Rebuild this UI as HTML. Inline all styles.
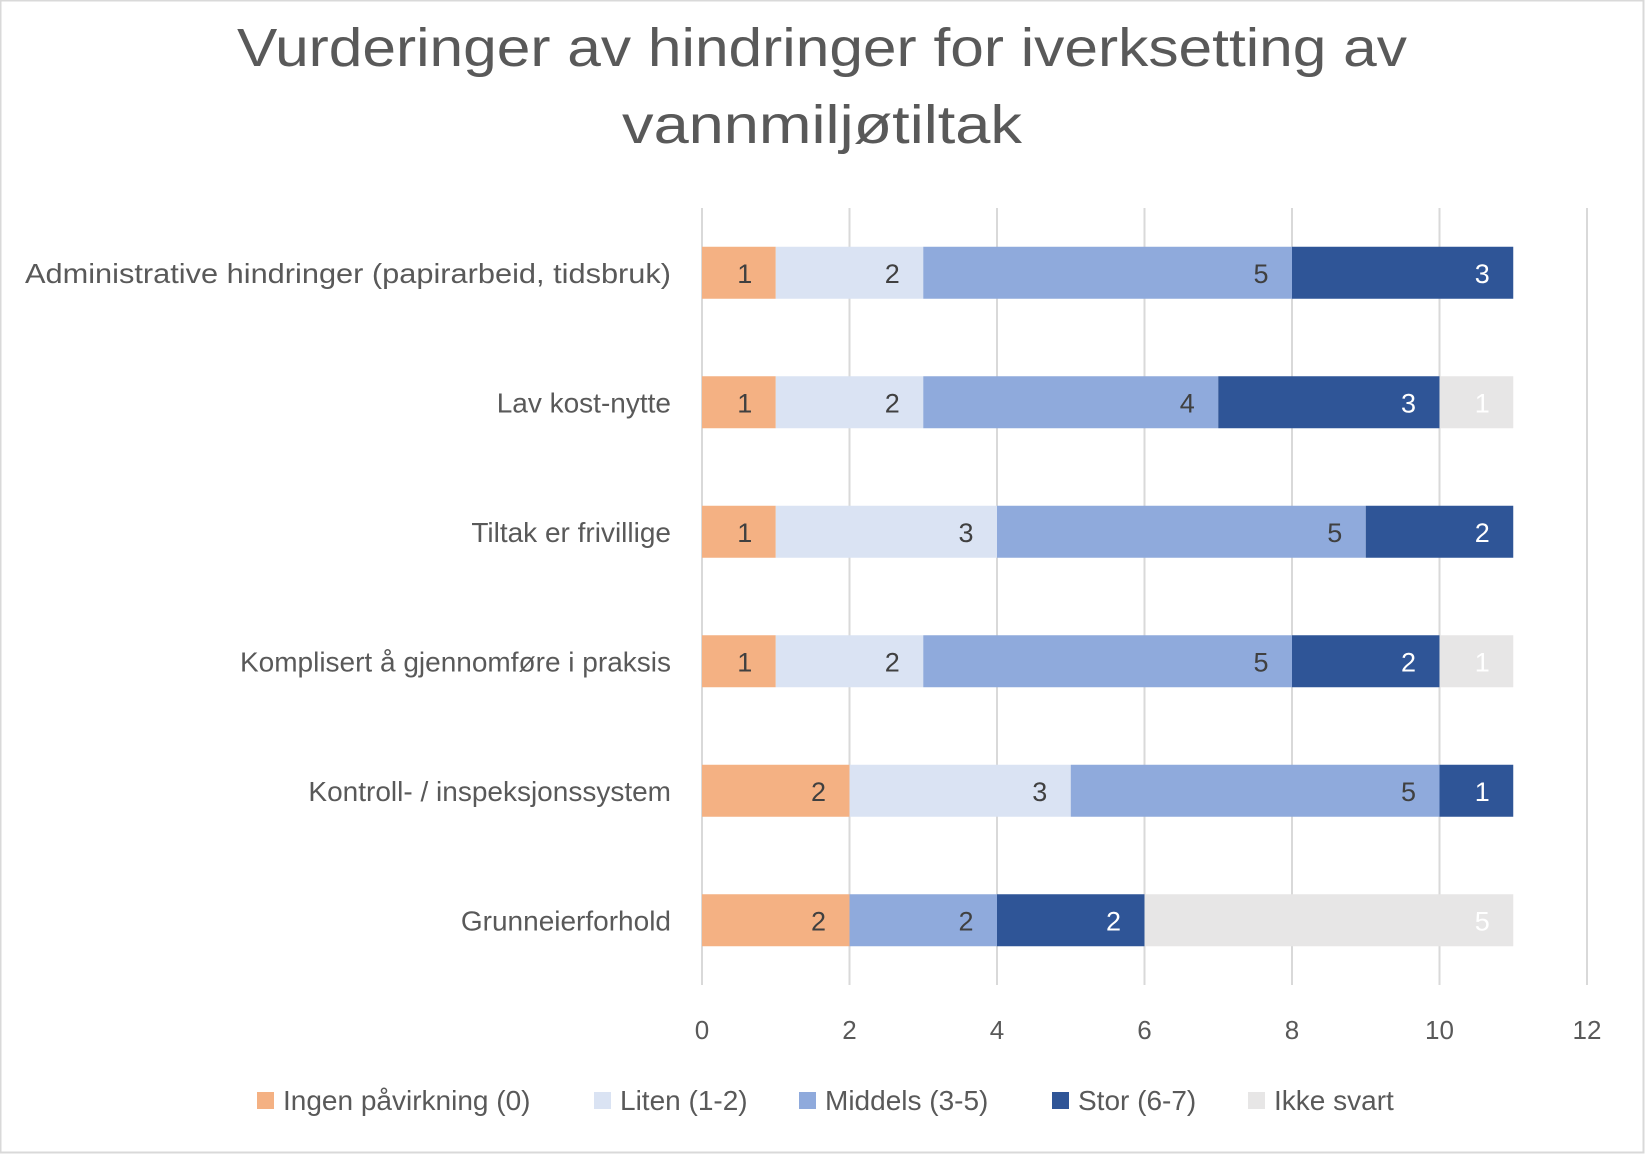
<!DOCTYPE html>
<html><head><meta charset="utf-8"><style>
html,body{margin:0;padding:0;background:#fff}
svg{display:block}
text{font-family:"Liberation Sans",sans-serif}
</style></head><body>
<svg id="chart" width="1645" height="1154" viewBox="0 0 1645 1154">
<rect x="0.5" y="0.5" width="1643" height="1152" fill="#fff" stroke="#d9d9d9" stroke-width="2"/>
<text x="822" y="66" text-anchor="middle" font-size="54" fill="#595959" textLength="1170" lengthAdjust="spacingAndGlyphs">Vurderinger av hindringer for iverksetting av</text>
<text x="822" y="143" text-anchor="middle" font-size="54" fill="#595959" textLength="400" lengthAdjust="spacingAndGlyphs">vannmiljøtiltak</text>
<g id="grid"></g><g id="bars"></g><g id="ylabels"></g><g id="xticks"></g><g id="legend"></g>
</svg>
<script>
const categories = ["Administrative hindringer (papirarbeid, tidsbruk)","Lav kost-nytte","Tiltak er frivillige","Komplisert å gjennomføre i praksis","Kontroll- / inspeksjonssystem","Grunneierforhold"];
const seriesNames = ["Ingen påvirkning (0)","Liten (1-2)","Middels (3-5)","Stor (6-7)","Ikke svart"];
const ingen = [1,1,1,1,2,2];
const liten = [2,2,3,2,3,0];
const middels = [5,4,5,5,5,2];
const stor = [3,3,2,2,1,2];
const ikkeSvart = [0,1,0,1,0,5];
const xTicks = [0,2,4,6,8,10,12];
const series = [ingen,liten,middels,stor,ikkeSvart];
const colors = ["#F4B183","#DAE3F3","#8FAADC","#2F5597","#E7E6E6"];
const labelColors = ["#404040","#404040","#404040","#ffffff","#ffffff"];
const NS = "http://www.w3.org/2000/svg";
const x0 = 702, x1 = 1587, xMax = 12, plotTop = 208, plotBot = 985;
const xs = v => x0 + v/xMax*(x1-x0);
const band = (plotBot-plotTop)/categories.length;
const yc = i => plotTop + band*(i+0.5);
const barH = 52;
function mk(tag, attrs, parent){const e=document.createElementNS(NS,tag);for(const k in attrs)e.setAttribute(k,attrs[k]);parent.appendChild(e);return e;}
const grid=document.getElementById('grid'), bars=document.getElementById('bars'), yl=document.getElementById('ylabels'), xt=document.getElementById('xticks'), lg=document.getElementById('legend');
xTicks.forEach(t=>{
  const l=mk('line',{x1:xs(t),x2:xs(t),y1:plotTop,y2:plotBot,stroke:'#d9d9d9','stroke-width':2},grid);
  
  
  const tx=mk('text',{x:xs(t),y:1039,'text-anchor':'middle','font-size':26,fill:'#595959'},xt);
  tx.textContent=t;
  
  
});
categories.forEach((c,i)=>{
  const tx=mk('text',{x:671,y:yc(i)+10,'text-anchor':'end','font-size':28,fill:'#595959'},yl);
  tx.textContent=c;
  if(i===0){tx.setAttribute('textLength','646');tx.setAttribute('lengthAdjust','spacingAndGlyphs');}
  
  
  let acc=0;
  series.forEach((s,k)=>{
    const v=s[i]; if(!v) return;
    const r=mk('rect',{x:xs(acc),y:yc(i)-barH/2,width:xs(acc+v)-xs(acc),height:barH,fill:colors[k]},bars);
    
    
    acc+=v;
    const lb=mk('text',{x:xs(acc)-31,y:yc(i)+10,'text-anchor':'middle','font-size':27,fill:labelColors[k]},bars);
    lb.textContent=v;
    
    
  });
});
const lx=[257,594,799,1052,1248];
seriesNames.forEach((n,k)=>{
  const r=mk('rect',{x:lx[k],y:1092,width:17,height:17,fill:colors[k]},lg);
  
  
  const t=mk('text',{x:lx[k]+26,y:1110,'font-size':28,fill:'#595959'},lg);
  t.textContent=n;
  
  
});
</script>
</body></html>
